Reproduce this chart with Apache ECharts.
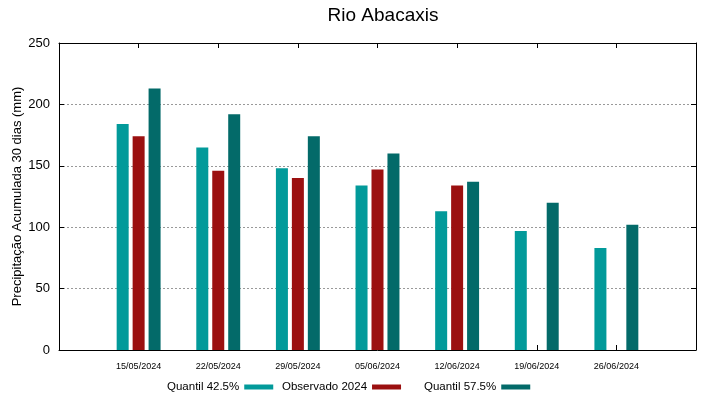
<!DOCTYPE html>
<html>
<head>
<meta charset="utf-8">
<script src="https://cdn.jsdelivr.net/npm/echarts@6/dist/echarts.min.js"></script>
<style>
html, body { margin: 0; padding: 0; background: #fff; }
#chart { width: 719px; height: 399px; }
</style>
</head>
<body>
<div id="chart"></div>
<script>
// dates (first and last slots are empty padding, as in the original plot)
var dates = ['', '15/05/2024', '22/05/2024', '29/05/2024', '05/06/2024', '12/06/2024', '19/06/2024', '26/06/2024', ''];
var quantil425 = [null, 184, 165, 148, 134, 113, 97, 83, null];
var observado = [null, 174, 146, 140, 147, 134, null, null, null];
var quantil575 = [null, 213, 192, 174, 160, 137, 120, 102, null];

var font = 'Liberation Sans, Arial, sans-serif';

function barSeries(name, data, color) {
    return {
        name: name,
        type: 'bar',
        data: data,
        barWidth: 12,
        barGap: '33%',
        itemStyle: { color: color },
        xAxisIndex: 0,
        yAxisIndex: 0
    };
}

function legendAt(left, name) {
    return {
        left: left,
        top: 381,
        padding: 0,
        align: 'right',
        itemWidth: 29,
        itemHeight: 5,
        itemGap: 0,
        icon: 'rect',
        textStyle: { fontFamily: font, fontSize: 11.5, color: '#000', padding: [0, 0, 0, 0] },
        data: [name]
    };
}

var option = {
    backgroundColor: '#fff',
    animation: false,
    textStyle: { fontFamily: font },
    title: {
        text: 'Rio Abacaxis',
        left: 378,
        top: 1,
        textAlign: 'center',
        textStyle: { fontFamily: font, fontSize: 19, fontWeight: 'normal', color: '#000' }
    },
    legend: [
        legendAt(167, 'Quantil 42.5%'),
        legendAt(282, 'Observado 2024'),
        legendAt(424, 'Quantil 57.5%')
    ],
    grid: { left: 59, right: 23, top: 43, bottom: 49, containLabel: false, outerBoundsMode: 'none' },
    xAxis: [{
        type: 'category',
        data: dates,
        boundaryGap: false,
        position: 'bottom',
        axisLine: { onZero: false, lineStyle: { color: '#000' } },
        axisTick: { show: true, inside: true, length: 5, interval: 0, lineStyle: { color: '#000', width: 1 } },
        axisLabel: { interval: 0, fontSize: 9, color: '#000', margin: 12, fontFamily: font }
    }, {
        type: 'category',
        data: dates,
        boundaryGap: false,
        position: 'top',
        axisLine: { show: true, onZero: false, lineStyle: { color: '#000' } },
        axisTick: { show: true, inside: false, length: -5, interval: 0, lineStyle: { color: '#000', width: 1 } },
        axisLabel: { show: false }
    }],
    yAxis: [{
        type: 'value',
        min: 0,
        max: 250,
        interval: 50,
        name: 'Precipitação Acumulada 30 dias (mm)',
        nameLocation: 'middle',
        nameGap: 35,
        nameMoveOverlap: false,
        nameTextStyle: { fontFamily: font, fontSize: 13, color: '#000' },
        axisLine: { show: true, onZero: false, lineStyle: { color: '#000' } },
        axisTick: { show: true, inside: true, length: 5, lineStyle: { color: '#000' } },
        axisLabel: { fontSize: 13, color: '#000', margin: 9, fontFamily: font },
        splitLine: { lineStyle: { color: '#999', type: [2, 2], width: 1 } }
    }, {
        type: 'value',
        min: 0,
        max: 250,
        interval: 50,
        position: 'right',
        axisLine: { show: true, onZero: false, lineStyle: { color: '#000' } },
        axisTick: { show: true, inside: false, length: -5, lineStyle: { color: '#000' } },
        axisLabel: { show: false },
        splitLine: { show: false }
    }],
    series: [
        barSeries('Quantil 42.5%', quantil425, '#029a9a'),
        barSeries('Observado 2024', observado, '#9b1010'),
        barSeries('Quantil 57.5%', quantil575, '#036a69')
    ]
};

var chart = echarts.init(document.getElementById('chart'));
chart.setOption(option);
</script>
</body>
</html>
